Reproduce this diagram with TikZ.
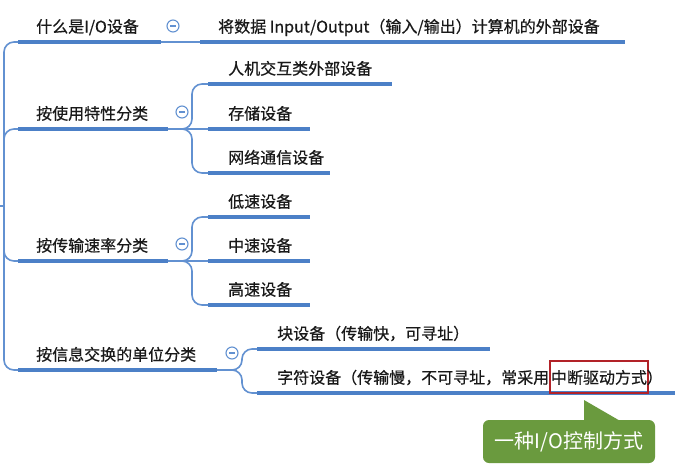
\documentclass[tikz,border=0pt]{standalone}
\usepackage{fontspec}
\newfontfamily\cjk[FakeBold=0.6]{Noto Sans CJK SC}
\newfontfamily\cjktip{Noto Sans CJK SC}
\usetikzlibrary{positioning}
\definecolor{barblue}{RGB}{76,128,199}
\definecolor{linkblue}{RGB}{98,145,209}
\definecolor{boxred}{RGB}{178,34,40}
\definecolor{tipgreen}{RGB}{106,154,62}
\definecolor{inkgray}{RGB}{25,25,25}
\tikzset{
  topic/.style={anchor=base west, inner sep=0pt, text=inkgray, font=\cjk\fontsize{16}{16}\selectfont},
  bar/.style={draw=barblue, line width=4pt},
  link/.style={draw=linkblue, line width=1.6pt, rounded corners=10pt},
  fold/.style={circle, draw=linkblue, fill=white, line width=1.1pt, minimum size=12pt, inner sep=0pt,
    path picture={\draw[linkblue, line width=1.1pt]
      ([xshift=-3pt]path picture bounding box.center) -- ([xshift=3pt]path picture bounding box.center);}},
  markbox/.style={topic, draw=boxred, line width=1.2pt, inner xsep=1pt, inner ysep=0pt,
    text height=22.5pt, text depth=9.5pt},
  tip/.style={fill=tipgreen, rounded corners=6pt, text=white, inner sep=0pt,
    minimum width=172pt, minimum height=43pt, font=\cjktip\fontsize{20}{20}\selectfont},
}
\begin{document}
\begin{tikzpicture}[x=1pt,y=-1pt]
\useasboundingbox (0,0) rectangle (675,467);

% Trunk from the root
\coordinate (rootL) at (0,206);
\coordinate (root) at (4,206);
\draw[link] (rootL) -- (root);

% Topic A: what is an I/O device
\node[topic] (tA) at (36,32.5) {什么是I/O设备};
\coordinate (aL) at (18,42); \coordinate (aR) at (161,42);
\draw[bar] (aL) -- (aR);
\node[fold] (fA) at (173,26) {};
\node[topic] (tA1) at (218,32.5) {将数据 Input/Output（输入/输出）计算机的外部设备};
\coordinate (a1L) at (200,42); \coordinate (a1R) at (625,42);
\draw[bar] (a1L) -- (a1R);
\draw[link] (aR) -- (a1L);
\draw[link] (root) |- (aL);

% Topic B: by usage
\node[topic] (tB) at (36,119.5) {按使用特性分类};
\coordinate (bL) at (18,129); \coordinate (bR) at (168,129);
\draw[bar] (bL) -- (bR);
\node[fold] (fB) at (182,112) {};
\draw[link] (root) |- (bL);
\coordinate (bF) at (192,129);
\node[topic] (tB1) at (228,74.5) {人机交互类外部设备};
\node[topic] (tB2) at (228,119.5) {存储设备};
\node[topic] (tB3) at (228,163.5) {网络通信设备};
\coordinate (b1L) at (208,84);  \coordinate (b1R) at (392,84);
\coordinate (b2L) at (208,129); \coordinate (b2R) at (310,129);
\coordinate (b3L) at (208,173); \coordinate (b3R) at (330,173);
\draw[bar] (b1L) -- (b1R);
\draw[bar] (b2L) -- (b2R);
\draw[bar] (b3L) -- (b3R);
\draw[link] (bR) -- (b2L);
\draw[link] (bR) -- (bF) |- (b1L);
\draw[link] (bR) -- (bF) |- (b3L);

% Topic C: by transfer rate
\node[topic] (tC) at (36,251.5) {按传输速率分类};
\coordinate (cL) at (18,261); \coordinate (cR) at (168,261);
\draw[bar] (cL) -- (cR);
\node[fold] (fC) at (182,244) {};
\draw[link] (root) |- (cL);
\coordinate (cF) at (192,261);
\node[topic] (tC1) at (228,207.5) {低速设备};
\node[topic] (tC2) at (228,251.5) {中速设备};
\node[topic] (tC3) at (228,295.5) {高速设备};
\coordinate (c1L) at (208,217); \coordinate (c1R) at (310,217);
\coordinate (c2L) at (208,261); \coordinate (c2R) at (310,261);
\coordinate (c3L) at (208,305); \coordinate (c3R) at (310,305);
\draw[bar] (c1L) -- (c1R);
\draw[bar] (c2L) -- (c2R);
\draw[bar] (c3L) -- (c3R);
\draw[link] (cR) -- (c2L);
\draw[link] (cR) -- (cF) |- (c1L);
\draw[link] (cR) -- (cF) |- (c3L);

% Topic D: by unit of exchange
\node[topic] (tD) at (36,360.5) {按信息交换的单位分类};
\coordinate (dL) at (18,370); \coordinate (dR) at (217,370);
\draw[bar] (dL) -- (dR);
\node[fold] (fD) at (232,353) {};
\draw[link] (root) |- (dL);
\coordinate (dF) at (242,370);
\node[topic] (tD1) at (277,339.5) {块设备（传输快，可寻址）};
\node[topic] (tD2) at (277,383.5) {字符设备（传输慢，不可寻址，常采用};
\coordinate (d1L) at (257,349); \coordinate (d1R) at (490,349);
\coordinate (d2L) at (257,393); \coordinate (d2R) at (675,393);
\draw[bar] (d1L) -- (d1R);
\draw[bar] (d2L) -- (d2R);
\draw[link] (dR) -- (dF) |- (d1L);
\draw[link] (dR) -- (dF) |- (d2L);
\node[markbox] (tD2b) at (tD2.base east) {中断驱动方式};
\node[topic, xshift=-2pt] (tD2c) at (tD2b.base east) {）};

% Callout
\node[tip] (tipbox) at (569,441.5) {一种I/O控制方式};
\coordinate (tipA) at (584,400);
\coordinate (tipB) at (622,422);
\fill[tipgreen] (tipA) -- (tipA |- tipB) -- (tipB) -- cycle;
\end{tikzpicture}
\end{document}
